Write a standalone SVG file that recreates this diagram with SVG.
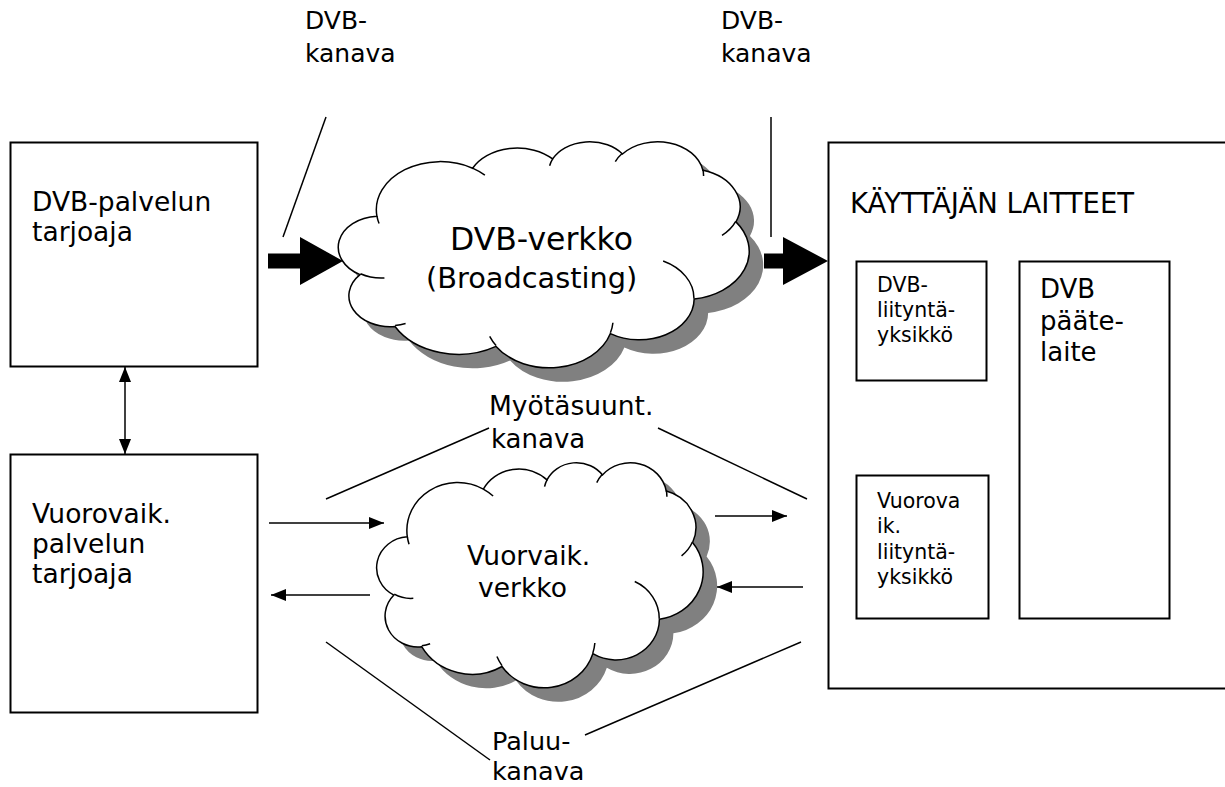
<svg xmlns="http://www.w3.org/2000/svg" xmlns:xlink="http://www.w3.org/1999/xlink" width="1225" height="787" viewBox="0 0 1225 787">
  <style>
    text { font-family: "DejaVu Sans", Verdana, sans-serif; fill: #000; }
    .box { fill: #fff; stroke: #000; stroke-width: 2; }
    .thin { stroke: #000; stroke-width: 1.5; fill: none; }
    .shadow { fill: #808080; stroke: none; }
    .cloud { fill: #fff; stroke: #000; stroke-width: 1.5; }
    .cloudline { fill: none; stroke: #000; stroke-width: 1.5; }
    .block { fill: #000; }
  </style>
  <defs>
    <!-- cloud outline in a 43200 x 43200 unit square -->
    <path id="cloudShape" vector-effect="non-scaling-stroke" d="M3900 14370 A6753 9190 0 0 1 14005 5202 A5333 7267 0 0 1 22456 3433 A4365 5945 0 0 1 29834 2483 A4857 6595 0 0 1 38320 5577 A5333 7273 0 0 1 41820 15461 A6775 9220 0 0 1 37405 30201 A5785 7867 0 0 1 28557 36812 A6752 9215 0 0 1 16482 39264 A7720 10543 0 0 1 5807 35470 A4360 5918 0 0 1 2116 25549 A4345 5945 0 0 1 3900 14370 Z"/>
    <!-- short inner arcs where the puffs overlap -->
    <path id="cloudInner" vector-effect="non-scaling-stroke" d="M4693 26177 A4345 5945 0 0 1 2160 25380 M6928 34899 A4360 5918 0 0 1 5820 35281 M16478 39090 A6752 9215 0 0 1 15810 37349 M28827 34751 A6752 9215 0 0 1 28560 36660 M34129 22954 A5785 7867 0 0 1 37381 30090 M41798 15354 A5333 7273 0 0 1 40349 18031 M38324 5426 A4857 6595 0 0 1 38400 6690 M29078 3952 A4857 6595 0 0 1 29819 2341 M22141 4720 A4365 5945 0 0 1 22500 3331 M14000 5192 A6753 9190 0 0 1 15301 6541 M4127 15789 A6753 9190 0 0 1 3900 14371"/>
    <marker id="head" viewBox="0 0 15 12" markerUnits="userSpaceOnUse" markerWidth="15" markerHeight="12" refX="15" refY="6" orient="auto-start-reverse">
      <path d="M0,0 L15,6 L0,12 Z" fill="#000"/>
    </marker>
  </defs>

  <!-- DVB service provider -->
  <g id="dvb-provider">
    <rect class="box" x="10.5" y="142.5" width="247" height="224"/>
    <text x="32" y="211" font-size="26.5">DVB-palvelun</text>
    <text x="32" y="241" font-size="26.5">tarjoaja</text>
  </g>

  <!-- interactive service provider -->
  <g id="interactive-provider">
    <rect class="box" x="10.5" y="454.5" width="247" height="258"/>
    <text x="32" y="523" font-size="26.5">Vuorovaik.</text>
    <text x="32" y="553" font-size="26.5">palvelun</text>
    <text x="32" y="583" font-size="26.5">tarjoaja</text>
  </g>

  <!-- broadcast network cloud -->
  <g id="dvb-network">
    <use xlink:href="#cloudShape" class="shadow" transform="translate(354,155) scale(0.009468,0.005231)"/>
    <use xlink:href="#cloudShape" class="cloud" transform="translate(340,141) scale(0.009468,0.005231)"/>
    <use xlink:href="#cloudInner" class="cloudline" transform="translate(340,141) scale(0.009468,0.005231)"/>
    <text x="450" y="250" font-size="31.5">DVB-verkko</text>
    <text x="426" y="288" font-size="28.8">(Broadcasting)</text>
  </g>

  <!-- interaction network cloud -->
  <g id="interaction-network">
    <use xlink:href="#cloudShape" class="shadow" transform="translate(392,476) scale(0.007523,0.005208)"/>
    <use xlink:href="#cloudShape" class="cloud" transform="translate(378,462) scale(0.007523,0.005208)"/>
    <use xlink:href="#cloudInner" class="cloudline" transform="translate(378,462) scale(0.007523,0.005208)"/>
    <text x="467" y="565" font-size="26.5">Vuorvaik.</text>
    <text x="478" y="597" font-size="26.5">verkko</text>
  </g>

  <!-- user equipment -->
  <g id="user-equipment">
    <rect class="box" x="828.5" y="142.5" width="420" height="546" stroke-width="2.5"/>
    <text x="850" y="213" font-size="27.5">KÄYTTÄJÄN LAITTEET</text>
  </g>

  <g id="dvb-interface">
    <rect class="box" x="856.5" y="261.5" width="130" height="119"/>
    <text x="877" y="292" font-size="20.5">DVB-</text>
    <text x="877" y="317" font-size="20.5">liityntä-</text>
    <text x="877" y="342" font-size="20.5">yksikkö</text>
  </g>

  <g id="dvb-terminal">
    <rect class="box" x="1019.5" y="261.5" width="150" height="357"/>
    <text x="1040" y="298" font-size="26">DVB</text>
    <text x="1040" y="330" font-size="26">pääte-</text>
    <text x="1040" y="361" font-size="26">laite</text>
  </g>

  <g id="interactive-interface">
    <rect class="box" x="856.5" y="475.5" width="132" height="143"/>
    <text x="877" y="508" font-size="20.5">Vuorova</text>
    <text x="877" y="533" font-size="20.5">ik.</text>
    <text x="877" y="559" font-size="20.5">liityntä-</text>
    <text x="877" y="584" font-size="20.5">yksikkö</text>
  </g>

  <!-- channel labels -->
  <g id="labels">
    <text x="305" y="29" font-size="25">DVB-</text>
    <text x="305" y="62" font-size="25">kanava</text>
    <text x="721" y="29" font-size="25">DVB-</text>
    <text x="721" y="62" font-size="25">kanava</text>
    <text x="489" y="415" font-size="26.5">Myötäsuunt.</text>
    <text x="491" y="448" font-size="26">kanava</text>
    <text x="492" y="750" font-size="25.5">Paluu-</text>
    <text x="492" y="780" font-size="25.5">kanava</text>
  </g>

  <!-- connectors -->
  <g id="connectors">
    <path class="block" d="M268,253.5 H300 V237 L343,261 L300,285 V268.5 H268 Z"/>
    <path class="block" d="M764,253.5 H783 V237 L828,261 L783,285 V268.5 H764 Z"/>
    <line class="thin" x1="326" y1="117" x2="283" y2="237"/>
    <line class="thin" x1="771" y1="117" x2="771" y2="237"/>
    <line class="thin" x1="125" y1="367" x2="125" y2="454" marker-start="url(#head)" marker-end="url(#head)"/>
    <line class="thin" x1="326" y1="499" x2="489" y2="428"/>
    <line class="thin" x1="658" y1="428" x2="807" y2="499"/>
    <line class="thin" x1="326" y1="642" x2="490" y2="760"/>
    <line class="thin" x1="801" y1="642" x2="585" y2="735"/>
    <line class="thin" x1="269" y1="523" x2="384" y2="523" marker-end="url(#head)"/>
    <line class="thin" x1="370" y1="595" x2="271" y2="595" marker-end="url(#head)"/>
    <line class="thin" x1="715" y1="516" x2="787" y2="516" marker-end="url(#head)"/>
    <line class="thin" x1="803" y1="587" x2="717" y2="587" marker-end="url(#head)"/>
  </g>
</svg>
